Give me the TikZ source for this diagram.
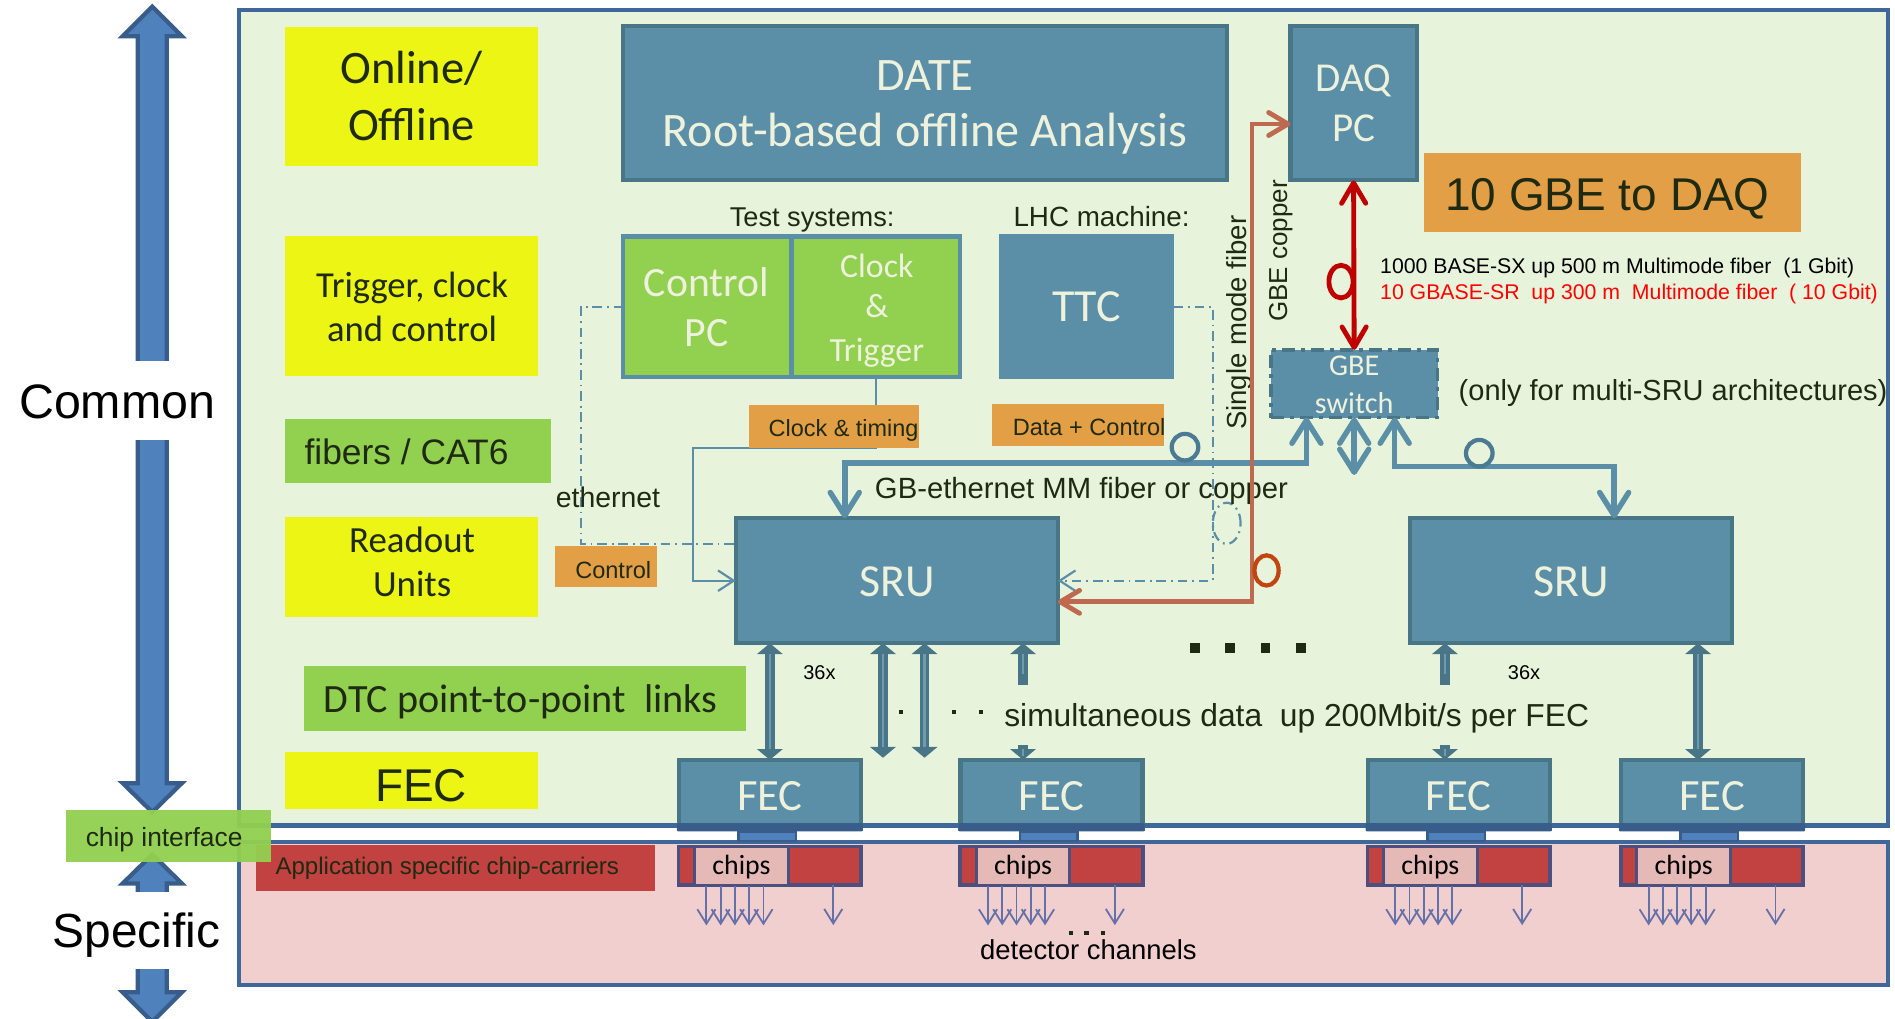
\documentclass[tikz,border=0pt]{standalone}
\usepackage{fontspec}
\setmainfont{Liberation Sans}
\newfontfamily\calfont{Carlito}
\usetikzlibrary{arrows.meta}

\definecolor{ink}{HTML}{1F2A12}
\definecolor{cream}{HTML}{EEF2DC}
\definecolor{paleGreen}{HTML}{E8F3DC}
\definecolor{palePink}{HTML}{F2CFCF}
\definecolor{frameBlue}{HTML}{40679A}
\definecolor{steel}{HTML}{5B8FA8}
\definecolor{steelDark}{HTML}{497686}
\definecolor{leaf}{HTML}{92D050}
\definecolor{lemon}{HTML}{ECF514}
\definecolor{amber}{HTML}{E39F46}
\definecolor{brick}{HTML}{C24141}
\definecolor{blush}{HTML}{E5B9B5}
\definecolor{slate}{HTML}{4C507E}
\definecolor{office}{HTML}{4F81BD}
\definecolor{officeDark}{HTML}{385D8A}
\definecolor{chan}{HTML}{6571A9}
\definecolor{rust}{HTML}{BF6A50}
\definecolor{rustRing}{HTML}{C0450F}
\definecolor{fiberRed}{HTML}{C00000}
\definecolor{ringBlue}{HTML}{4B7A93}
\definecolor{stripeBlue}{HTML}{6D9BB0}

% font helpers: Arial-like and Calibri-like at a given size
\newcommand\arsz[1]{\fontsize{#1}{#1}\selectfont}
\newcommand\casz[1]{\calfont\fontsize{#1}{#1}\selectfont}
% rectangle node from its border corners: style, name, x1, y1, x2, y2
\newcommand\rectnode[6]{\node[#1, anchor=north west, minimum width={((#5)-(#3))*1pt}, minimum height={((#6)-(#4))*1pt}] (#2) at ({#3},{#4}) {};}
% small square dot: x, y, size
\newcommand\sqdot[3]{\fill[ink] ({#1-#3/2},{#2-#3/2}) rectangle ({#1+#3/2},{#2+#3/2});}

\tikzset{
  sfTipBus/.tip={Straight Barb[round,length=19pt,width=24pt]},
  sfTipRed/.tip={Straight Barb[round,length=17pt,width=20pt]},
  sfTipRust/.tip={Straight Barb[round,length=16pt,width=19pt]},
  sfTipThin/.tip={Straight Barb[length=13pt,width=17pt]},
  sfTipChan/.tip={Straight Barb[length=12pt,width=15pt]},
  sfTipLink/.tip={Triangle[width=21pt,length=9pt]},
  lbl/.style={anchor=base, text=ink},
  lblw/.style={anchor=base west, text=ink},
  creamtxt/.style={anchor=base, text=cream},
  busLine/.style={draw=steel, line width=4.5pt},
  thinLine/.style={draw=steel, line width=1.8pt},
  dashLine/.style={draw=steel, line width=1.8pt, dash pattern=on 8pt off 4pt on 1.5pt off 4pt},
  chanArrow/.style={draw=chan, line width=1.5pt, -sfTipChan},
  sfLink/.style={draw=steelDark, line width=8pt,
    postaction={draw=stripeBlue, line width=2pt, arrows=-, shorten <=9pt, shorten >=9pt}},
  blueBox/.style={draw=steelDark, line width=3.5pt, fill=steel},
}

% one front-end card with its chip carrier and detector channels
\newcommand\fecunit[2]{%
  \rectnode{blueBox}{fec#2}{#1+1.75}{628.75}{#1+152.25}{686.25}
  \fill[officeDark, rounded corners=1pt] ([xshift=-1.75pt,yshift=-1.75pt]fec#2.south west) rectangle ([xshift=1.75pt,yshift=5.25pt]fec#2.south east);
  \node[creamtxt, font=\casz{37}] (fecT#2) at ({#1+77},671) {FEC};
  \rectnode{draw=officeDark, line width=2pt, fill=office}{conn#2}{#1+51}{688}{#1+98.5}{696}
  \rectnode{draw=slate, line width=3pt, fill=brick}{car#2}{#1+1.5}{700.5}{#1+152.5}{732.5}
  \rectnode{draw=slate, line width=2.5pt, fill=blush}{chips#2}{#1+14.75}{700.25}{#1+92.25}{732.75}
  \node[anchor=base, text=black, font=\casz{23}] (chipsT#2) at ({#1+53.5},724) {chips};
  \foreach \k in {0,...,4}{\draw[chanArrow] ([xshift={(9.75+11.8*\k)*1pt}]chips#2.south west) -- ++(0,33);}
  \draw[chanArrow] ([xshift=-23pt]car#2.south east) -- ++(0,33);
}

\begin{document}
\begin{tikzpicture}[x=1pt, y=-1pt, every node/.style={inner sep=0pt, outer sep=0pt}]
\fill[white] (0,0) rectangle (1568,843);
\useasboundingbox (0,0) rectangle (1568,843);

% ---- scale arrows on the left
\filldraw[fill=office, draw=officeDark, line width=3.5pt, line join=miter]
  (126,5.5) -- (150.5,30) -- (138,30) -- (138,648) -- (150.5,648) -- (126,672)
  -- (101.5,648) -- (114,648) -- (114,30) -- (101.5,30) -- cycle;
\fill[white] (98,299) rectangle (154,364);
\node[anchor=base, text=black, font=\arsz{40}] (common) at (97,346) {Common};

\filldraw[fill=office, draw=officeDark, line width=3.5pt, line join=miter]
  (126,707) -- (150.5,731) -- (138,731) -- (138,821) -- (150.5,821) -- (126,845.5)
  -- (101.5,821) -- (114,821) -- (114,731) -- (101.5,731) -- cycle;
\fill[white] (98,738) rectangle (154,802);
\node[anchor=base, text=black, font=\arsz{39.6}] (specific) at (113,784.4) {Specific};

% ---- common and specific areas
\filldraw[fill=paleGreen, draw=frameBlue, line width=3.5pt] (198,8) rectangle (1562,683);
\filldraw[fill=palePink, draw=frameBlue, line width=3.5pt] (198,696.5) rectangle (1562,815);

% ---- layer labels
\rectnode{fill=lemon}{onlineBox}{236}{22}{445}{137}
\node[lbl, font=\casz{38.5}] (online1) at (340.5,69) {Online/};
\node[lbl, font=\casz{38.5}] (online2) at (340.5,116.4) {Offline};
\rectnode{fill=lemon}{tccBox}{236}{195}{445}{311}
\node[lbl, font=\casz{30.3}] (tcc1) at (341,246) {Trigger, clock};
\node[lbl, font=\casz{30.3}] (tcc2) at (341,282.7) {and control};
\rectnode{fill=leaf}{fiberBox}{236}{347}{456}{400}
\node[lblw, font=\arsz{29.3}] (fiberTxt) at (252,384.7) {fibers / CAT6};
\rectnode{fill=lemon}{roBox}{236}{428}{445}{510.5}
\node[lbl, font=\casz{30.5}] (ro1) at (341,457.3) {Readout};
\node[lbl, font=\casz{30.5}] (ro2) at (341,493.7) {Units};
\rectnode{fill=leaf}{dtcBox}{251.6}{551}{617}{605}
\node[lblw, font=\casz{33.2}] (dtcTxt) at (268,589.7) {DTC point-to-point\ \ links};
\rectnode{fill=lemon}{fecLbl}{236}{622}{445}{669}
\node[lbl, font=\arsz{38}] (fecLblTxt) at (348.5,663.3) {FEC};
\rectnode{fill=brick}{ascBox}{212}{699}{542}{737}
\node[lblw, font=\arsz{19.9}] (ascTxt) at (228,724) {Application specific chip-carriers};

% ---- online systems
\rectnode{blueBox}{date}{515.75}{21.75}{1015.25}{149.25}
\node[creamtxt, font=\casz{38.5}] (date1) at (765.5,75) {DATE};
\node[creamtxt, font=\casz{39.8}] (date2) at (765.5,121.4) {Root-based offline Analysis};
\node[lbl, font=\arsz{22.5}] (testTxt) at (672,187) {Test systems:};
\node[lbl, font=\arsz{23}] (lhcTxt) at (911.5,187) {LHC machine:};
\rectnode{draw=steel, line width=3.5pt, fill=leaf}{ctrlpc}{515.75}{195.75}{655}{312.25}
\rectnode{draw=steel, line width=3.5pt, fill=leaf}{clktrg}{655}{195.75}{794.25}{312.25}
\node[creamtxt, font=\casz{34.5}] (cpc1) at (584.5,245) {Control};
\node[creamtxt, font=\casz{34.5}] (cpc2) at (584.5,286.9) {PC};
\node[creamtxt, font=\casz{28}] (ct1) at (725.5,229.8) {Clock};
\node[creamtxt, font=\casz{28}] (ct2) at (725.5,262.9) {\&};
\node[creamtxt, font=\casz{28}] (ct3) at (725.5,299.2) {Trigger};
\rectnode{fill=steel}{ttc}{827}{194}{971}{314}
\node[creamtxt, font=\casz{38}] (ttcT) at (899,266.2) {TTC};
\rectnode{blueBox}{daq}{1067.75}{21.75}{1172.25}{149.25}
\node[creamtxt, font=\casz{34}] (daq1) at (1120,75.8) {DAQ};
\node[creamtxt, font=\casz{34}] (daq2) at (1120,117.2) {PC};
\rectnode{fill=amber}{gbeLbl}{1178}{127}{1490}{192}
\node[lblw, font=\arsz{38}] (gbeLblTxt) at (1196,174.3) {10 GBE to DAQ};
\rectnode{draw=steelDark, line width=3pt, fill=steel, dash pattern=on 11pt off 5pt on 3pt off 5pt}{sw}{1051.5}{289.5}{1189.5}{345.5}
\node[creamtxt, font=\casz{25}] (sw1) at (1120.5,310.3) {GBE};
\node[creamtxt, font=\casz{25}] (sw2) at (1120.5,342) {switch};
\node[lblw, text=black, font=\arsz{17.6}] (sx) at (1142,226) {1000 BASE-SX up 500 m Multimode fiber\ \ (1 Gbit)};
\node[lblw, text=red, font=\arsz{17.6}] (sr) at (1142,247.7) {10 GBASE-SR\ \ up 300 m\ \ Multimode fiber\ \ ( 10 Gbit)};
\node[lblw, font=\arsz{24}] (multi) at (1207,331) {(only for multi-SRU architectures)};

% ---- readout units and front-end cards
\rectnode{blueBox}{sruA}{608.75}{428.75}{875.25}{532.25}
\rectnode{blueBox}{sruB}{1166.75}{428.75}{1433.25}{532.25}
\node[creamtxt, font=\casz{38}] (sruAT) at (742,493.7) {SRU};
\node[creamtxt, font=\casz{38}] (sruBT) at (1300,493.7) {SRU};
\fecunit{560}{A}
\fecunit{793}{B}
\fecunit{1130}{C}
\fecunit{1339.6}{D}

% ---- point-to-point links
\coordinate (lkA2) at (730.6,627);
\coordinate (lkA3) at (765,627);
\coordinate (lkA4a) at (846.5,567);
\coordinate (lkA4b) at (846.5,616.5);
\coordinate (lkB1a) at (1195.6,567);
\coordinate (lkB1b) at (1195.6,616.5);
\coordinate (lkB2) at (1405,600);
\draw[sfLink, sfTipLink-sfTipLink] (sruA.south -| fecA.north) -- (fecA.north);
\draw[sfLink, sfTipLink-sfTipLink] (sruA.south -| lkA2) -- (lkA2);
\draw[sfLink, sfTipLink-sfTipLink] (sruA.south -| lkA3) -- (lkA3);
\draw[sfLink, sfTipLink-] (sruA.south -| lkA4a) -- (lkA4a);
\draw[sfLink, -sfTipLink] (lkA4b) -- (fecB.north -| lkA4b);
\draw[sfLink, sfTipLink-] (sruB.south -| lkB1a) -- (lkB1a);
\draw[sfLink, -sfTipLink] (lkB1b) -- (fecC.north -| lkB1b);
\draw[sfLink, sfTipLink-sfTipLink] (sruB.south -| lkB2) -- (fecD.north -| lkB2);
\node[anchor=base, text=black, font=\arsz{16.5}] (n36a) at (678,562.6) {36x};
\node[anchor=base, text=black, font=\arsz{16.5}] (n36b) at (1261,562.6) {36x};
\sqdot{745.5}{589}{3.8}
\sqdot{789.5}{589}{3.8}
\sqdot{811.7}{589}{3.8}
\sqdot{989}{536}{8}
\sqdot{1018}{536}{8}
\sqdot{1047}{536}{8}
\sqdot{1076.5}{536}{8}
\node[lblw, font=\arsz{26.3}] (simTxt) at (831,601.2) {simultaneous data\ \ up 200Mbit/s per FEC};

% ---- clock, trigger and control lines
\coordinate (ctCorner) at (573.5,370.5);
\draw[thinLine, -sfTipThin] (clktrg.south) |- (ctCorner) |- (sruA.west);
\coordinate (ethCorner) at (480.5,450);
\draw[dashLine] (ctrlpc.west) -| (ethCorner) -- (sruA.west |- ethCorner);
\coordinate (ttcCorner) at (1003.4,300);
\draw[dashLine, -sfTipThin] (ttc.east) -| (ttcCorner) |- (sruA.east);
\draw[dashLine] (1015,433) ellipse [x radius=11.5pt, y radius=17pt];

% ---- ethernet to the switch
\node[lblw, font=\arsz{24.2}] (gbTxt) at (724,412.3) {GB-ethernet MM fiber or copper};
\coordinate (busL) at (699,383);
\coordinate (busR) at (1335.6,386);
\coordinate (swStub) at (1120.5,393);
\draw[busLine, sfTipBus-sfTipBus] ([xshift=-39.5pt]sw.south) |- (busL) -- (sruA.north -| busL);
\draw[busLine, sfTipBus-sfTipBus] ([xshift=33.5pt]sw.south) |- (busR) -- (sruB.north -| busR);
\draw[busLine, sfTipBus-sfTipBus] (sw.south) -- (swStub);
\draw[ringBlue, line width=3.5pt] (980.5,370) circle [radius=11pt];
\draw[ringBlue, line width=3.5pt] (1224,375) circle [radius=11pt];

% ---- 10 GbE uplink
\draw[fiberRed, line width=4pt, sfTipRed-sfTipRed] (daq.south) -- (sw.north);
\draw[fiberRed, line width=4pt] (1109.6,233) ellipse [x radius=10pt, y radius=13.5pt];

% ---- single mode fiber to the DAQ PC
\node[anchor=base, text=ink, rotate=90, font=\arsz{22.8}] (smfTxt) at (1031,267) {Single mode fiber};
\node[anchor=base, text=ink, rotate=90, font=\arsz{21.5}] (gcTxt) at (1065,207.5) {GBE copper};
\coordinate (smfBend) at (1036,102.6);
\draw[rust, line width=4pt, sfTipRust-sfTipRust] ([yshift=-17.5pt]sruA.east) -| (smfBend) -- (daq.west |- smfBend);
\draw[rustRing, line width=3.5pt] (1048,472) ellipse [x radius=10pt, y radius=12.5pt];

% ---- link labels
\rectnode{fill=amber}{ctLbl}{620}{335}{760}{370.5}
\node[lblw, font=\arsz{19.4}] (ctTxt) at (636,361.3) {Clock \& timing};
\rectnode{fill=amber}{dcLbl}{821}{334}{963}{369}
\node[lblw, font=\arsz{19.5}] (dcTxt) at (838,360) {Data + Control};
\rectnode{fill=amber}{ctrlLbl}{459}{452}{544}{486}
\node[lblw, font=\arsz{19.5}] (ctrlTxt) at (476,478.5) {Control};
\node[lblw, font=\arsz{23.5}] (ethTxt) at (460,420) {ethernet};

% ---- detector side
\sqdot{886}{772}{3.5}
\sqdot{899}{772}{3.5}
\sqdot{912.6}{772}{3.5}
\node[lblw, text=black, font=\arsz{22.7}] (detTxt) at (811,793.7) {detector channels};

% ---- interface marker
\rectnode{fill=leaf, fill opacity=0.95}{chipIf}{55}{670}{224}{713}
\node[lblw, font=\arsz{21.8}] (chipIfTxt) at (71,700.5) {chip interface};
\end{tikzpicture}
\end{document}
